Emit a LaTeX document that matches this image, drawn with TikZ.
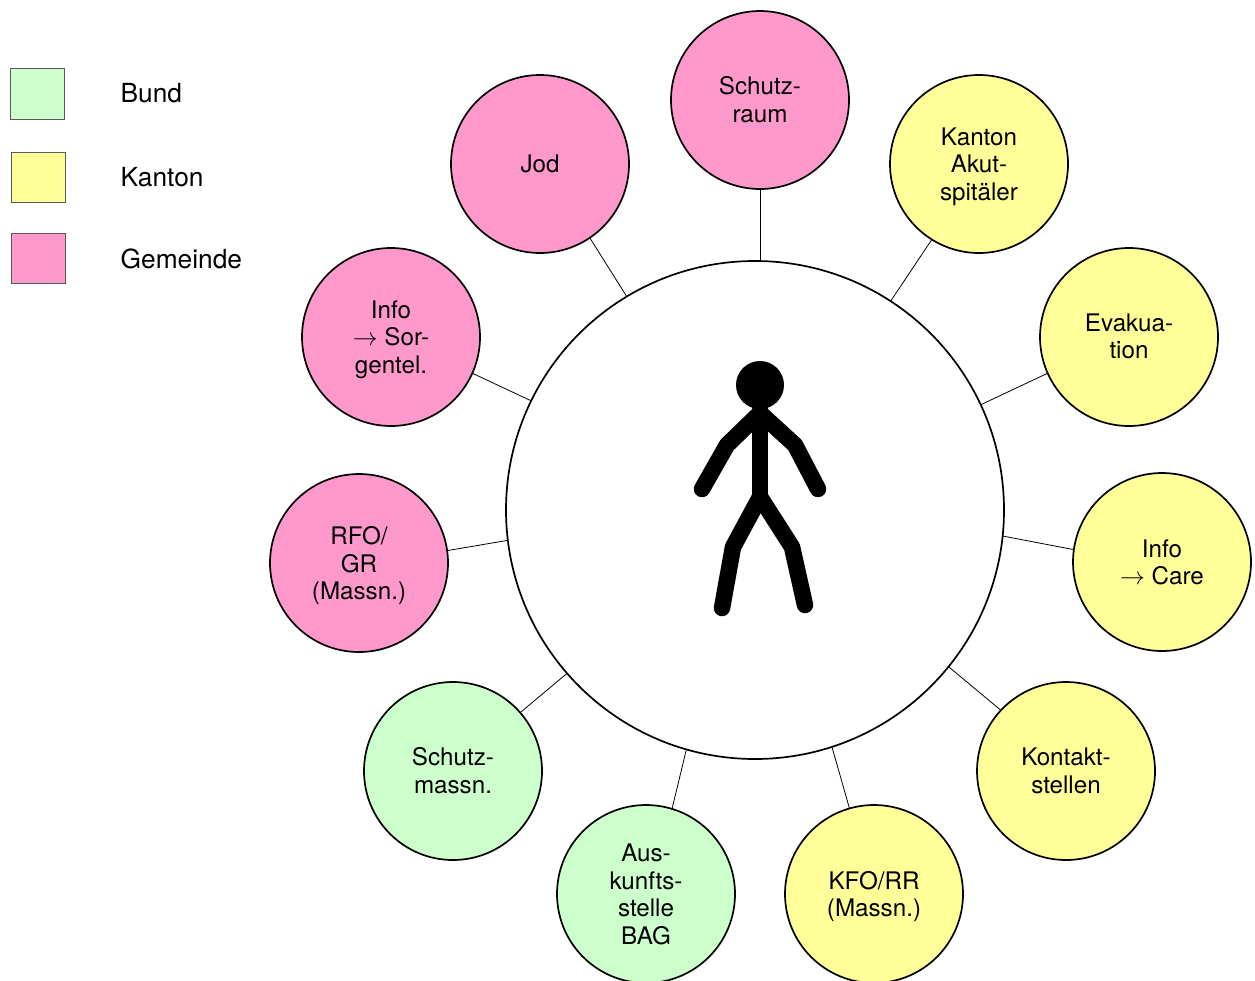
\documentclass[tikz,border=0pt]{standalone}
\usepackage{fontspec}
\setmainfont{TeX Gyre Heros}
\begin{document}
\begin{tikzpicture}[x=1pt,y=-1pt,
  hubcircle/.style={circle,draw=black,fill=white,line width=1.7pt,minimum size=498pt,inner sep=0pt,outer sep=0pt},
  topic/.style={circle,draw=black,line width=1.7pt,minimum size=178pt,inner sep=0pt,outer sep=0pt,align=center,text depth=0pt,font=\fontsize{24.2}{27.5}\selectfont},
  bund/.style={fill=bundcol},
  kanton/.style={fill=kantoncol},
  gemeinde/.style={fill=gemeindecol},
  legendbox/.style={draw=black!65,line width=0.8pt,anchor=north west,inner sep=0pt,outer sep=0pt},
  legendtext/.style={anchor=west,inner sep=0pt,font=\fontsize{26.3}{28}\selectfont},
  link/.style={draw=black,line width=0.8pt},
  stick/.style={draw=black,line width=16.5pt,line cap=round,line join=round}]
\definecolor{bundcol}{HTML}{CCFFCC}
\definecolor{kantoncol}{HTML}{FFFF99}
\definecolor{gemeindecol}{HTML}{FF99CC}
\useasboundingbox (0,0) rectangle (1255,980);

\node[hubcircle] (hub) at (755,510) {};
\node[topic,gemeinde,text depth=1.5pt] (schutzraum) at (760,100) {Schutz-\\raum};
\node[topic,kanton] (akut) at (979,164) {Kanton\\Akut-\\spitäler};
\node[topic,kanton,text depth=1.5pt] (evak) at (1129,337) {Evakua-\\tion};
\node[topic,kanton] (care) at (1162,562) {Info\\$\rightarrow$ Care};
\node[topic,kanton,text depth=1pt] (kontakt) at (1066,771) {Kontakt-\\stellen};
\node[topic,kanton] (kfo) at (874,894) {KFO/RR\\(Massn.)};
\node[topic,bund,text depth=-4.5pt] (aus) at (646,894) {Aus-\\kunfts-\\stelle\\BAG};
\node[topic,bund,text depth=1pt] (massn) at (453,771) {Schutz-\\massn.};
\node[topic,gemeinde] (rfo) at (359,563) {RFO/\\GR\\(Massn.)};
\node[topic,gemeinde] (sorgen) at (391,337) {Info\\$\rightarrow$ Sor-\\gentel.};
\node[topic,gemeinde] (jod) at (540,164) {Jod};

\draw[link] (schutzraum.south) -- (schutzraum.south |- hub.north);
\foreach \t/\a/\b in {akut/-122.6/57.1,evak/204/25.2,care/172.3/-6.7,
    kontakt/137.7/-39,kfo/106.2/-72.1,aus/73.8/-106.1,massn/41.4/221.3,rfo/8.3/187.2,
    sorgen/-24.5/154.1,jod/-56.5/121.1}
  \draw[link] (\t.\a) -- (hub.\b);

% stick figure
\fill[black] (760,385) circle (24);
\draw[stick] (760,410) -- (760,497);
\draw[stick] (702,489) -- (727,445) -- (760,413) -- (795,445) -- (818,489);
\draw[stick] (722,608) -- (733,547) -- (760,497) -- (792,547) -- (805,605);

% legend
\node[legendbox,bund,minimum width=54pt,minimum height=50.5pt] (lb) at (10.5,68.5) {};
\node[legendbox,kanton,minimum width=54.5pt,minimum height=50.5pt] (lk) at (11,152) {};
\node[legendbox,gemeinde,minimum width=54.5pt,minimum height=50pt] (lg) at (11,233.5) {};
\node[legendtext] (tb) at (120.5,93.5) {Bund};
\node[legendtext] (tk) at (120.5,177.5) {Kanton};
\node[legendtext] (tg) at (120.5,258.8) {Gemeinde};
\end{tikzpicture}
\end{document}
